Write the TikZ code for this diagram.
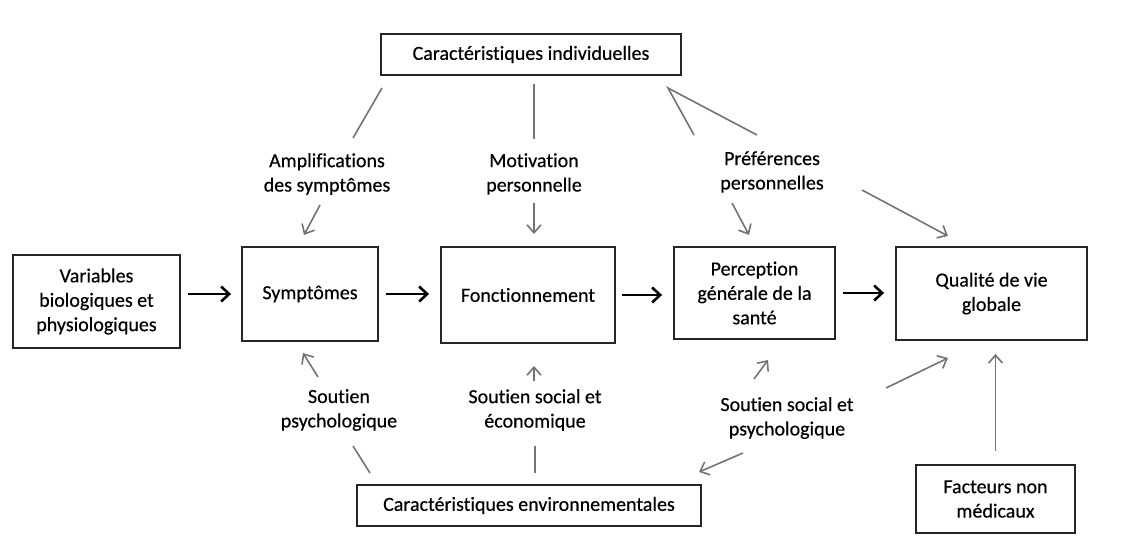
\documentclass[tikz,border=0pt]{standalone}
\usepackage{fontspec}
\setmainfont{Carlito}[Ligatures=NoCommon,FakeBold=0.4]
\usetikzlibrary{arrows.meta}

\begin{document}
\begin{tikzpicture}[x=1pt,y=-1pt,
  font=\fontsize{20}{24.4}\selectfont,
  box/.style={draw=black!85,line width=1.9pt,align=center,inner sep=0pt},
  lbl/.style={align=center,inner sep=0pt},
  link/.style={draw=black!55,line width=1.6pt},
  tip/.style={link,-{Straight Barb[length=8pt,width=14pt]}},
  flow/.style={draw=black,line width=2.6pt,-{Straight Barb[length=8pt,width=15pt]}}]
  \useasboundingbox (0,0) rectangle (1121,543);
  % boxes
  \node[box,minimum width=300pt,minimum height=41pt] (indiv) at (531,54.5) {Caractéristiques individuelles};
  \node[box,minimum width=167pt,minimum height=93pt] (var) at (96.5,301.5) {Variables\\biologiques et\\physiologiques};
  \node[box,minimum width=136pt,minimum height=94pt] (sympt) at (310,294) {Symptômes};
  \node[box,minimum width=174pt,minimum height=96pt] (fonct) at (528,295) {Fonctionnement};
  \node[box,minimum width=161pt,minimum height=92pt] (percep) at (754.5,293) {Perception\\générale de la\\santé};
  \node[box,minimum width=191pt,minimum height=93pt] (qual) at (991.5,293.5) {Qualité de vie\\globale};
  \node[box,minimum width=344pt,minimum height=41pt] (env) at (529,505.5) {Caractéristiques environnementales};
  \node[box,minimum width=159pt,minimum height=68pt] (fact) at (995.5,499) {Facteurs non\\médicaux};
  % labels
  \node[lbl] (amp) at (327,174) {Amplifications\\des symptômes};
  \node[lbl] (motiv) at (534,174) {Motivation\\personnelle};
  \node[lbl] (pref) at (772,172) {Préférences\\personnelles};
  \node[lbl] (spsy) at (339,410) {Soutien\\psychologique};
  \node[lbl] (seco) at (535,410) {Soutien social et\\économique};
  \node[lbl] (ssps) at (787,418) {Soutien social et\\psychologique};
  % end points
  \coordinate (amp1) at (382,88);   \coordinate (amp2) at (353,138);
  \coordinate (amp3) at (320,205);  \coordinate (amp4) at (304,235);
  \coordinate (mot1) at (534,84);   \coordinate (mot2) at (534,139);
  \coordinate (mot3) at (534,203);  \coordinate (mot4) at (534,234);
  \coordinate (pref0) at (668,88);
  \coordinate (pref1) at (694,135); \coordinate (pref2) at (757,135);
  \coordinate (pref3) at (732,203); \coordinate (pref4) at (749,235);
  \coordinate (pref5) at (862,190); \coordinate (pref6) at (948,236);
  \coordinate (spsy1) at (318,377); \coordinate (spsy2) at (303,353);
  \coordinate (spsy3) at (353,446); \coordinate (spsy4) at (370,473);
  \coordinate (seco1) at (534,381); \coordinate (seco2) at (534,366);
  \coordinate (seco3) at (535,446); \coordinate (seco4) at (535,473);
  \coordinate (ssps1) at (754,379); \coordinate (ssps2) at (768,360);
  \coordinate (ssps3) at (886,388); \coordinate (ssps4) at (948,358);
  \coordinate (ssps5) at (743,453); \coordinate (ssps6) at (699,472);
  % main chain
  \draw[flow,shorten <=7pt,shorten >=10pt] (var.east |- sympt.west) -- (sympt.west);
  \draw[flow,shorten <=7pt,shorten >=11pt] (sympt.east) -- (sympt.east -| fonct.west);
  \draw[flow,shorten <=6pt,shorten >=11pt] (fonct.east) -- (fonct.east -| percep.west);
  \draw[flow,shorten <=7pt,shorten >=11pt] (percep.east) -- (percep.east -| qual.west);
  % top influences
  \draw[link] (amp1) -- (amp2);
  \draw[tip] (amp3) -- (amp4);
  \draw[link] (mot1) -- (mot2);
  \draw[tip] (mot3) -- (mot4);
  \draw[link] (pref1) -- (pref0) -- (pref2);
  \draw[tip] (pref3) -- (pref4);
  \draw[tip] (pref5) -- (pref6);
  % bottom influences
  \draw[tip] (spsy1) -- (spsy2);
  \draw[link] (spsy3) -- (spsy4);
  \draw[tip] (seco1) -- (seco2);
  \draw[link] (seco3) -- (seco4);
  \draw[tip] (ssps1) -- (ssps2);
  \draw[tip] (ssps3) -- (ssps4);
  \draw[tip] (ssps5) -- (ssps6);
  \draw[tip,shorten <=13pt,shorten >=13pt] (fact.north) -- (fact.north |- qual.south);
\end{tikzpicture}
\end{document}
